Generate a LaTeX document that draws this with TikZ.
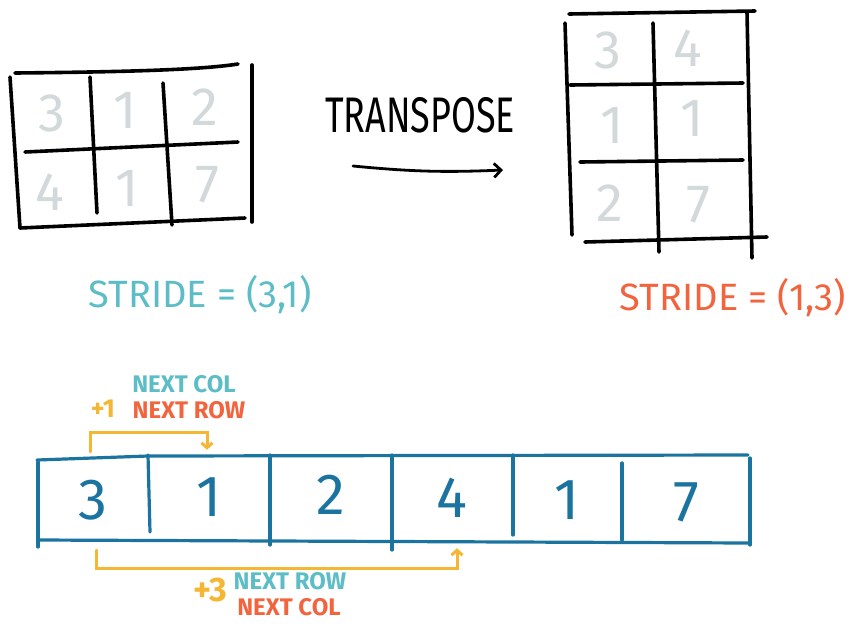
\documentclass[tikz,border=0pt]{standalone}
\usepackage{fontspec}
\setmainfont{Fira Sans}
\usetikzlibrary{arrows.meta,positioning}
\definecolor{numgray}{HTML}{D3D9DB}
\definecolor{tapeblue}{HTML}{1B74A0}
\definecolor{hopyellow}{HTML}{F4B633}
\definecolor{strideteal}{HTML}{5DBDC7}
\definecolor{strideorange}{HTML}{F2643D}

\begin{document}
\begin{tikzpicture}[x=1pt, y=-1pt,
  ink/.style={line width=3.6pt, line cap=round},
  tape/.style={line width=3.2pt, line cap=round, draw=tapeblue},
  gnum/.style={font=\fontsize{54}{54}\selectfont, text=numgray, inner sep=0pt},
  cell/.style={font=\fontsize{58}{58}\selectfont, text=tapeblue, minimum width=108pt, minimum height=80pt, inner sep=0pt},
  hop/.style={line width=3pt, line cap=round, draw=hopyellow, -{Straight Barb[length=5pt,width=11pt]}},
  tag/.style={font=\fontsize{24}{24}\selectfont\bfseries, inner sep=0pt},
  big/.style={font=\fontsize{38}{38}\selectfont, inner sep=0pt},
]

\useasboundingbox (0,0) rectangle (857,625);

% --- Matrix before ---
\draw[ink] (15,73) .. controls (120,72) and (200,70) .. (238,64);
\draw[ink] (10,77) -- (20,228);
\draw[ink] (252,65) -- (252,222);
\draw[ink] (25,152) -- (238,142);
\draw[ink] (20,228) -- (245,218);
\draw[ink] (90,77) -- (97,213);
\draw[ink] (163,83) -- (172,225);
\node[gnum] (m11) at (52,113) {3};
\node[gnum] (m12) at (125,110) {1};
\node[gnum] (m13) at (205,107) {2};
\node[gnum] (m21) at (50,192) {4};
\node[gnum] (m22) at (127,188) {1};
\node[gnum] (m23) at (207,185) {7};

% --- Transpose ---
\node[font=\fontsize{50}{50}\selectfont, inner sep=0pt] (trlbl) at (420,115) {\scalebox{0.72}[1]{TRANSPOSE}};
\coordinate (trin) at (353,166);
\coordinate (trout) at (503,170);
\draw[ink, line width=2.8pt, -{Straight Barb[length=7pt,width=14pt]}] (trin) to[bend right=4] (trout);

% --- Matrix after ---
\draw[ink] (569,14) -- (755,11);
\draw[ink] (565,23) -- (572,235);
\draw[ink] (747,12) -- (752,258);
\draw[ink] (570,85) -- (743,83);
\draw[ink] (580,162) -- (743,160);
\draw[ink] (585,242) -- (767,237);
\draw[ink] (653,23) -- (659,252);
\node[gnum] (t11) at (608,50) {3};
\node[gnum] (t12) at (688,48) {4};
\node[gnum] (t21) at (612,125) {1};
\node[gnum] (t22) at (692,118) {1};
\node[gnum] (t31) at (610,203) {2};
\node[gnum] (t32) at (698,205) {7};

% --- Strides ---
\node[big, text=strideteal] (sbefore) at (200,295) {STRIDE = (3,1)};
\node[big, text=strideorange] (safter) at (733,298) {STRIDE = (1,3)};

% --- Memory ---
\draw[tape] (37,460) -- (148,456) -- (748,455);
\draw[tape] (38,462) -- (38,547);
\draw[tape] (750,458) -- (750,545);
\draw[tape] (38,540) -- (750,543);
\draw[tape] (148,455) -- (150,532);
\draw[tape] (270,455) -- (270,545);
\draw[tape] (392,455) -- (392,550);
\draw[tape] (513,455) -- (513,535);
\draw[tape] (622,463) -- (622,540);
\node[cell] (a1) at (93,500) {3};
\node[cell] (a2) at (209,497) {1};
\node[cell] (a3) at (331,495) {2};
\node[cell] (a4) at (452,498) {4};
\node[cell] (a5) at (567,500) {1};
\node[cell] (a6) at (686,502) {7};

% --- Step +1 ---
\draw[hop] ([xshift=-3pt,yshift=8pt]a1.north) -- ++(0,-19) -| ([xshift=-2pt,yshift=7pt]a2.north);
\node[tag, text=hopyellow, font=\fontsize{26}{26}\selectfont\bfseries] (p1) at (103,409) {+1};
\node[tag, text=strideteal] (p1col) at (184,384) {NEXT COL};
\node[tag, text=strideorange] (p1row) at (189,410) {NEXT ROW};

% --- Step +3 ---
\draw[hop] ([xshift=3pt,yshift=-10pt]a1.south) -- ++(0,18) -| ([xshift=5pt,yshift=-10pt]a4.south);
\node[tag, text=hopyellow, font=\fontsize{34}{34}\selectfont\bfseries] (p3) at (210,590) {+3};
\node[tag, text=strideteal] (p3row) at (290,581) {NEXT ROW};
\node[tag, text=strideorange] (p3col) at (289,607) {NEXT COL};

\end{tikzpicture}
\end{document}
